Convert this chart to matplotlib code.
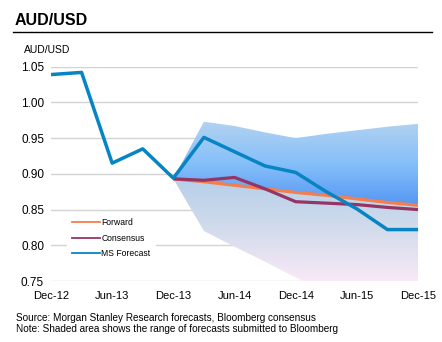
import numpy as np
import matplotlib
matplotlib.use("Agg")
import matplotlib.pyplot as plt
from matplotlib.colors import LinearSegmentedColormap
from matplotlib.lines import Line2D
from matplotlib.patches import Polygon

plt.rcParams["font.family"] = ["Liberation Sans", "DejaVu Sans"]

# quarterly dates, Dec-12 .. Dec-15
quarters = ["Dec-12", "Mar-13", "Jun-13", "Sep-13", "Dec-13", "Mar-14", "Jun-14",
            "Sep-14", "Dec-14", "Mar-15", "Jun-15", "Sep-15", "Dec-15"]
tick_labels = ["Dec-12", "Jun-13", "Dec-13", "Jun-14", "Dec-14", "Jun-15", "Dec-15"]

ms_forecast = [1.039, 1.042, 0.915, 0.935, 0.894, 0.951, 0.931, 0.911, 0.902,
               0.875, 0.851, 0.822, 0.822]
# forecast horizon starts at Dec-13
forward = [0.893, 0.889, 0.884, 0.879, 0.874, 0.870, 0.865, 0.860, 0.856]
consensus = [0.893, 0.891, 0.895, 0.879, 0.861, 0.859, 0.857, 0.853, 0.850]
range_high = [0.893, 0.973, 0.967, 0.958, 0.950, 0.956, 0.961, 0.966, 0.970]
range_low = [0.893, 0.820, 0.798, 0.777, 0.755, 0.735, 0.720, 0.710, 0.700]

x_all = np.arange(len(quarters))
x_fc = x_all[quarters.index("Dec-13"):]

fig = plt.figure(figsize=(4.42, 3.42), dpi=100)
ax = fig.add_axes([51 / 442, 1 - 281 / 342, 367 / 442, 214.3 / 342])


def gradient_fill(ax, x, lo, hi, colors, y0, y1):
    cmap = LinearSegmentedColormap.from_list("g", colors)
    grad = np.linspace(0, 1, 256).reshape(-1, 1)
    im = ax.imshow(grad, cmap=cmap, aspect="auto", origin="upper",
                   extent=[x[0], x[-1], y0, y1], zorder=1, interpolation="bilinear")
    verts = list(zip(x, hi)) + list(zip(x[::-1], lo[::-1]))
    poly = Polygon(verts, closed=True, fc="none", ec="none")
    ax.add_patch(poly)
    im.set_clip_path(poly)


# shaded range: blue above the forward path, pale below it
gradient_fill(ax, x_fc, np.array(forward), np.array(range_high),
              ["#b3d2f0", "#86c0f9", "#5597f4"], min(forward), max(range_high))
gradient_fill(ax, x_fc, np.array(range_low), np.array(forward),
              ["#b6cfea", "#d2dcec", "#f9e9f6"], 0.75, max(forward))

ax.plot(x_fc, forward, color="#f47e4e", lw=2.3, zorder=3, solid_capstyle="butt")
ax.plot(x_fc, consensus, color="#953564", lw=2.3, zorder=4, solid_capstyle="butt")
ax.plot(x_all, ms_forecast, color="#0784c3", lw=2.5, zorder=5, solid_capstyle="butt")

ax.set_xlim(0, 12)
ax.set_ylim(0.75, 1.05)
ax.set_yticks(np.arange(0.75, 1.051, 0.05))
ax.set_yticklabels(["%.2f" % v for v in np.arange(0.75, 1.051, 0.05)], fontsize=8.5)
ax.set_xticks(x_all[::2])
ax.set_xticklabels(tick_labels, fontsize=8)
ax.tick_params(length=0)
ax.tick_params(axis="y", pad=5)
ax.tick_params(axis="x", pad=7)
ax.grid(axis="y", color="#d3d3d3", lw=1, zorder=0)
ax.set_axisbelow(True)
for s in ax.spines.values():
    s.set_visible(False)

handles = [Line2D([], [], color="#f47e4e", lw=1.3),
           Line2D([], [], color="#953564", lw=1.3),
           Line2D([], [], color="#0784c3", lw=1.3)]
leg = ax.legend(handles, ["Forward", "Consensus", "MS Forecast"], loc="upper left",
                bbox_to_anchor=(0.032, 0.336), fontsize=6.2, handlelength=3.2,
                handletextpad=0.2, labelspacing=0.72, borderpad=0.6,
                frameon=True, fancybox=False, framealpha=1, edgecolor="none",
                facecolor="white")
leg.set_zorder(6)

fig.text(15 / 442, 1 - 20.5 / 342, "AUD/USD", fontsize=11.5, fontweight="bold", va="center")
fig.add_artist(Line2D([13 / 442, 432 / 442], [1 - 32.3 / 342] * 2, color="black", lw=1))
fig.text(24 / 442, 1 - 50 / 342, "AUD/USD", fontsize=7.5, va="center")
fig.text(16 / 442, 1 - 318 / 342, "Source: Morgan Stanley Research forecasts, Bloomberg consensus",
         fontsize=7.2, va="center")
fig.text(16 / 442, 1 - 329.5 / 342, "Note: Shaded area shows the range of forecasts submitted to Bloomberg",
         fontsize=7.2, va="center")

fig.savefig("out.png", dpi=100)
